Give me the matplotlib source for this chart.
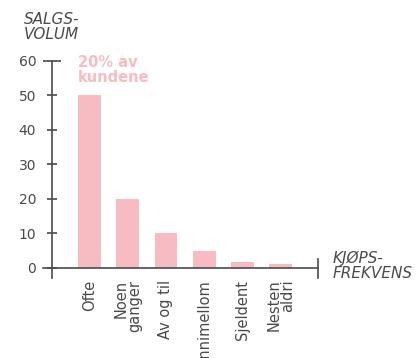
import matplotlib.pyplot as plt

plt.rcParams['font.family'] = ['DejaVu Sans']

# kjøpsfrekvens vs salgsvolum
kategorier = ["Ofte", "Noen\nganger", "Av og til", "Innimellom", "Sjeldent", "Nesten\naldri"]
salgsvolum = [50, 20, 10, 5, 1.8, 1.2]
yticks = [0, 10, 20, 30, 40, 50, 60]

rosa = "#F7BCC1"
graa = "#4a4a4a"

fig = plt.figure(figsize=(4.19, 3.58), dpi=100)
ax = fig.add_axes([43/419, (358-278)/358, (318-43)/419, (278-61)/358])

x = list(range(len(kategorier)))
ax.bar(x, salgsvolum, width=0.6, color=rosa, zorder=2)

xmin, xmax = -1.22, 5.98
ax.set_xlim(xmin, xmax)
ax.set_ylim(-2.9, 60)

for s in ["top", "right"]:
    ax.spines[s].set_visible(False)
ax.spines["left"].set_position(("data", -0.98))
ax.spines["bottom"].set_position(("data", 0))
for s in ["left", "bottom"]:
    ax.spines[s].set_color(graa)
    ax.spines[s].set_linewidth(1.2)

# endestrek på x-aksen
ax.plot([xmax, xmax], [-2.9, 2.6], color=graa, lw=1.2, clip_on=False)

ax.set_yticks(yticks)
ax.tick_params(axis="y", direction="inout", length=7, width=1.2, color=graa,
               labelcolor=graa, labelsize=10, pad=8)
ax.get_yticklines()[-2].set_markersize(13)
ax.set_xticks(x)
ax.set_xticklabels([])
ax.tick_params(axis="x", length=0)

for xi, navn in zip(x, kategorier):
    ax.text(xi, -3.4, navn, rotation=90, ha="center", va="top", multialignment="right",
            fontsize=10.5, color=graa, linespacing=0.85)

ax.text(-0.3, 61.8, "20% av\nkundene", ha="left", va="top", fontsize=10.5,
        fontweight="bold", color=rosa, linespacing=1.0)

fig.text(24/419, 1 - 12/358, "SALGS-\nVOLUM", ha="left", va="top", fontsize=11,
         style="italic", color=graa, linespacing=1.0)
fig.text(333/419, (358-266)/358, "KJØPS-\nFREKVENS", ha="left", va="center", fontsize=11,
         style="italic", color=graa, linespacing=1.0)

fig.savefig("out.png", dpi=100)
